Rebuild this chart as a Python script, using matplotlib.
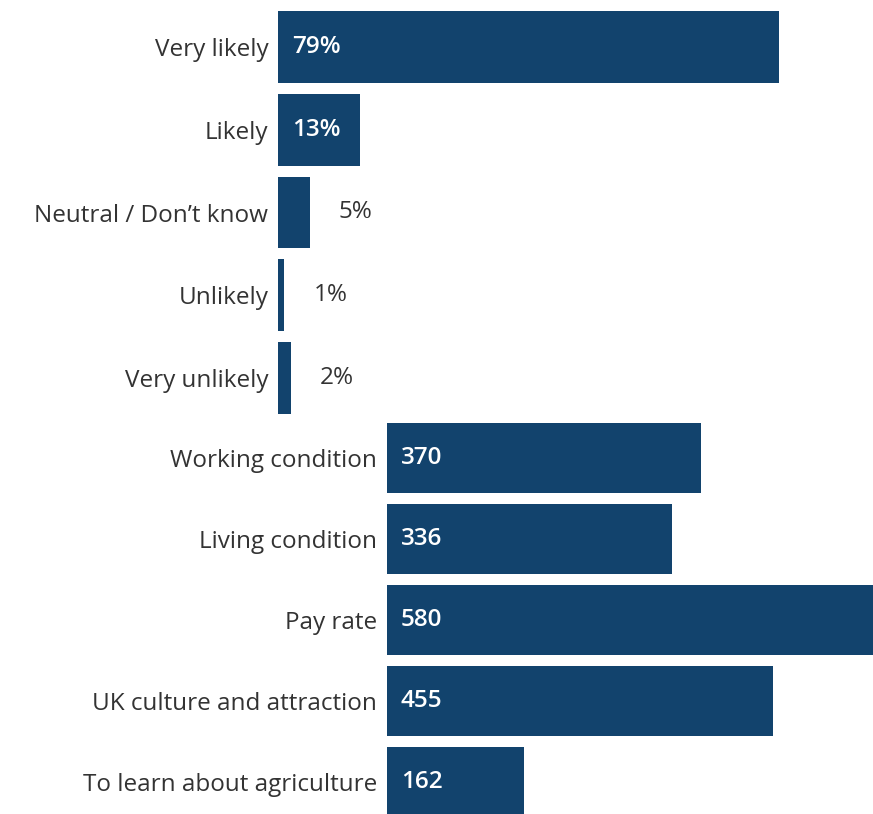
import matplotlib
matplotlib.use("Agg")
import matplotlib.pyplot as plt

# data
likely_labels = ["Very likely", "Likely", "Neutral / Don\u2019t know", "Unlikely", "Very unlikely"]
likely_values = [79, 13, 5, 1, 2]

reason_labels = ["Working condition", "Living condition", "Pay rate",
                 "UK culture and attraction", "To learn about agriculture"]
reason_values = [370, 336, 580, 455, 162]

bar_color = "#12436D"
text_color = "#333333"
plt.rcParams['font.family'] = ['Open Sans', 'DejaVu Sans']

W, H = 873, 814
fig = plt.figure(figsize=(W / 100, H / 100), dpi=100)


def draw(ax, labels, values, xmax, fmt, inside_min):
    ypos = list(range(len(values)))
    ax.barh(ypos, values, height=0.865, color=bar_color)
    ax.set_xlim(0, xmax)
    ax.set_ylim(len(values) - 0.5, -0.5)
    ax.set_yticks(ypos)
    ax.set_yticklabels(labels, fontsize=17.5, color=text_color)
    ax.tick_params(axis='y', length=0, pad=7)
    ax.set_xticks([])
    for s in ax.spines.values():
        s.set_visible(False)
    for y, v in zip(ypos, values):
        if v >= inside_min:
            ax.annotate(fmt(v), (0, y), xytext=(10, 0), textcoords='offset points',
                        va='center', ha='left', color='white', fontsize=17.5, fontweight='semibold')
        else:
            ax.annotate(fmt(v), (v, y), xytext=(21, 0), textcoords='offset points',
                        va='center', ha='left', color=text_color, fontsize=17.5)


# top chart: likelihood
ax1 = fig.add_axes([278 / W, 1 - 419.5 / H, (W - 278) / W, 414 / H])
draw(ax1, likely_labels, likely_values, 93.9, lambda v: f"{v}%", 10)

# bottom chart: reasons
ax2 = fig.add_axes([387 / W, 1 - 822.5 / H, (W - 387) / W, 405 / H])
draw(ax2, reason_labels, reason_values, 573, lambda v: f"{v}", 100)

fig.savefig("out.png", dpi=100)
